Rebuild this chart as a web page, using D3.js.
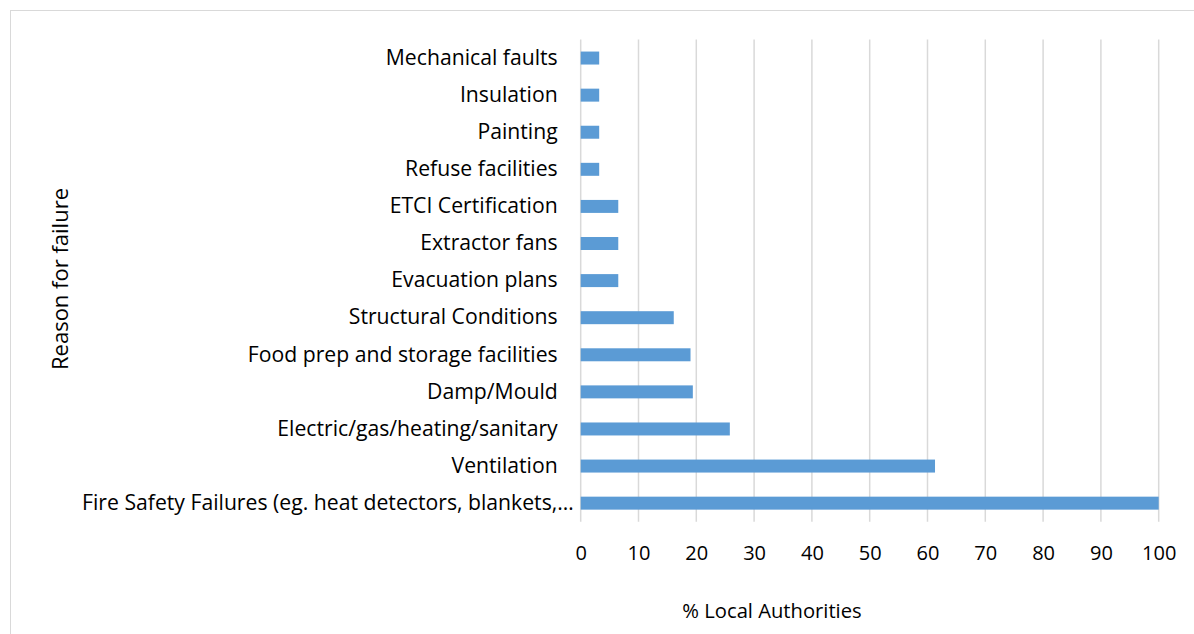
<!DOCTYPE html>
<html>
<head>
<meta charset="utf-8">
<script src="https://cdn.jsdelivr.net/npm/d3@7.9.0/dist/d3.min.js"></script>
<style>
  body { margin: 0; background: #fff; }
  svg { display: block; font-family: "Open Sans", sans-serif; }
</style>
</head>
<body>
<svg id="chart" width="1194" height="634"></svg>
<script>
const reasons = [
  'Mechanical faults',
  'Insulation',
  'Painting',
  'Refuse facilities',
  'ETCI Certification',
  'Extractor fans',
  'Evacuation plans',
  'Structural Conditions ',
  'Food prep and storage facilities',
  'Damp/Mould',
  'Electric/gas/heating/sanitary',
  'Ventilation',
  'Fire Safety Failures (eg. heat detectors, blankets,…',
];
const percentages = [3.2, 3.2, 3.2, 3.2, 6.5, 6.5, 6.5, 16.1, 19.0, 19.4, 25.8, 61.3, 100];
const xTicks = [0, 10, 20, 30, 40, 50, 60, 70, 80, 90, 100];

const data = reasons.map((reason, i) => ({ reason, value: percentages[i] }));

const svg = d3.select('#chart');
const plot = { left: 580.7, right: 1158.7, top: 39.5, bottom: 521.7 };

// chart area outline
svg.append('rect')
  .attr('x', 10.5).attr('y', 10.5)
  .attr('width', 1200).attr('height', 700)
  .attr('fill', 'none')
  .attr('stroke', '#d9d9d9');

const xScale = d3.scaleLinear().domain([0, 100]).range([plot.left, plot.right]);
const yScale = d3.scaleBand()
  .domain(reasons)
  .range([plot.top, plot.bottom])
  .paddingInner(0.65)
  .paddingOuter(0.325);

svg.append('g')
  .attr('class', 'gridlines')
  .selectAll('line')
  .data(xTicks)
  .join('line')
  .attr('x1', (d) => xScale(d))
  .attr('x2', (d) => xScale(d))
  .attr('y1', plot.top)
  .attr('y2', plot.bottom)
  .attr('stroke', '#d9d9d9')
  .attr('stroke-width', 1.5);

svg.append('g')
  .selectAll('rect')
  .data(data)
  .join('rect')
  .attr('x', xScale(0))
  .attr('y', (d) => yScale(d.reason))
  .attr('width', (d) => xScale(d.value) - xScale(0))
  .attr('height', yScale.bandwidth())
  .attr('fill', '#5b9bd5');

const xAxis = svg.append('g')
  .attr('transform', `translate(0, ${plot.bottom})`)
  .call(d3.axisBottom(xScale).tickValues(xTicks).tickSize(0).tickPadding(24));
xAxis.select('.domain').remove();
xAxis.selectAll('text')
  .attr('font-family', '"Open Sans", sans-serif')
  .attr('font-size', 20)
  .attr('fill', '#000');

const yAxis = svg.append('g')
  .attr('transform', `translate(${plot.left}, 0)`)
  .call(d3.axisLeft(yScale).tickSize(0).tickPadding(23));
yAxis.select('.domain').remove();
yAxis.selectAll('text')
  .attr('font-family', '"Open Sans", sans-serif')
  .attr('font-size', 21.2)
  .attr('fill', '#000');

// the truncated label sits closer to the axis, like Excel draws it
yAxis.selectAll('.tick text')
  .filter((d) => d.endsWith('…'))
  .attr('x', -7);

svg.append('text')
  .attr('x', 772)
  .attr('y', 618)
  .attr('text-anchor', 'middle')
  .attr('font-size', 20.2)
  .text('% Local Authorities');

svg.append('text')
  .attr('transform', 'translate(68, 279) rotate(-90)')
  .attr('text-anchor', 'middle')
  .attr('font-size', 22)
  .text('Reason for failure');
</script>
</body>
</html>
